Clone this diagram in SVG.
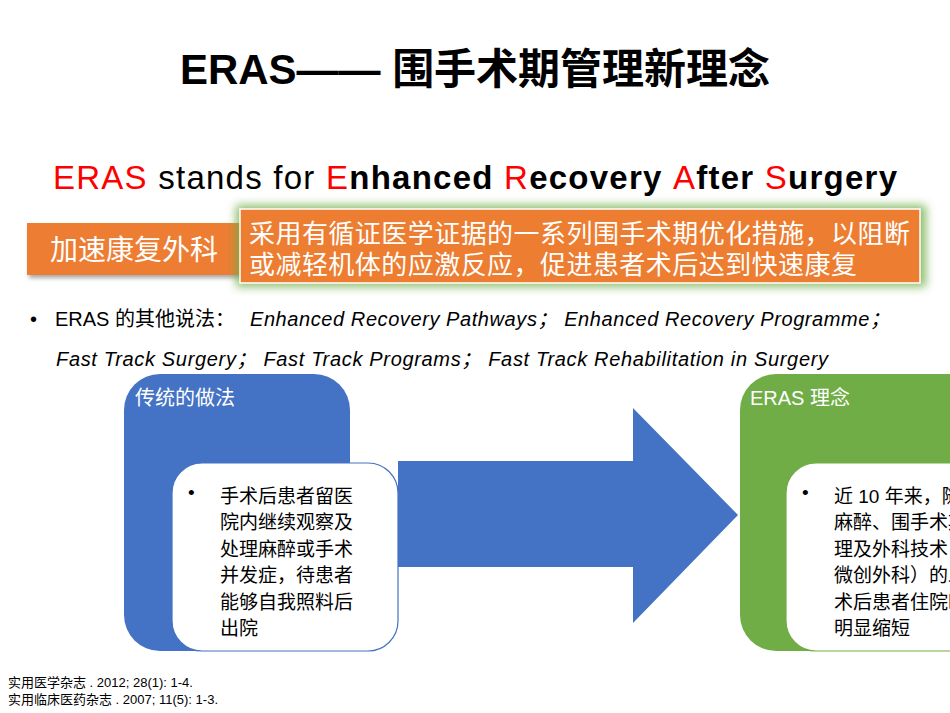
<svg xmlns="http://www.w3.org/2000/svg" width="950" height="713" viewBox="0 0 950 713">
<defs>
<style>
.s{font-family:"Liberation Sans","Noto Sans CJK SC",sans-serif}
.r{fill:#ff0000}
.b{font-weight:bold}
.it{font-style:italic}
</style>
<filter id="glow" x="-10%" y="-40%" width="120%" height="180%"><feGaussianBlur stdDeviation="5"/></filter>
<filter id="sh" x="-10%" y="-20%" width="130%" height="150%"><feDropShadow dx="2" dy="3" stdDeviation="2" flood-color="#000" flood-opacity="0.35"/></filter>
</defs>
<rect width="950" height="713" fill="#fff"/>
<text class="s" x="475" y="84" text-anchor="middle" font-size="42" font-weight="bold" fill="#000" textLength="590">ERAS—— 围手术期管理新理念</text>
<text class="s" x="53" y="189" font-size="33" fill="#000" textLength="844"><tspan class="r">ERAS</tspan> stands for <tspan class="r">E</tspan><tspan class="b">nhanced </tspan><tspan class="r">R</tspan><tspan class="b">ecovery </tspan><tspan class="r">A</tspan><tspan class="b">fter </tspan><tspan class="r">S</tspan><tspan class="b">urgery</tspan></text>
<g id="tag">
<rect x="27" y="223" width="214" height="52" fill="#ed7d31" filter="url(#sh)"/>
<text class="s" x="134" y="260" text-anchor="middle" font-size="28" fill="#fff">加速康复外科</text>
</g>
<g id="def">
<rect x="236" y="205" width="690" height="82" fill="#70ad47" filter="url(#glow)" opacity="0.8"/>
<rect x="240" y="209" width="680" height="74" fill="#ed7d31" stroke="#fff" stroke-width="1.5"/>
<text class="s" font-size="26" fill="#fff"><tspan x="249" y="243" textLength="661">采用有循证医学证据的一系列围手术期优化措施，以阻断</tspan><tspan x="249" y="274" textLength="608">或减轻机体的应激反应，促进患者术后达到快速康复</tspan></text>
</g>
<text class="s" font-size="20" fill="#000"><tspan x="30" y="326">•</tspan><tspan x="55" y="326">ERAS 的其他说法：</tspan><tspan class="it" x="250" y="326" textLength="640">Enhanced Recovery Pathways；  Enhanced Recovery Programme；</tspan><tspan class="it" x="56" y="366" textLength="772">Fast Track Surgery；  Fast Track Programs；  Fast Track Rehabilitation in Surgery</tspan></text>
<g id="trad">
<rect x="124" y="374" width="226" height="277" rx="36" fill="#4472c4"/>
<text class="s" x="135" y="405" font-size="20" fill="#fff">传统的做法</text>
</g>
<g id="trad-detail">
<rect x="172" y="463" width="226" height="188" rx="30" fill="#fff" stroke="#4472c4" stroke-width="1.2"/>
<text class="s" font-size="19" fill="#000"><tspan x="188" y="499">•</tspan><tspan x="220" y="503">手术后患者留医</tspan><tspan x="220" y="529">院内继续观察及</tspan><tspan x="220" y="556">处理麻醉或手术</tspan><tspan x="220" y="582">并发症，待患者</tspan><tspan x="220" y="609">能够自我照料后</tspan><tspan x="220" y="635">出院</tspan></text>
</g>
<g id="connectors">
<polygon points="398,461 633,461 633,408 738,515 633,623 633,567 398,567" fill="#4472c4"/>
</g>
<g id="eras">
<rect x="740" y="374" width="250" height="277" rx="36" fill="#70ad47"/>
<text class="s" x="750" y="405" font-size="20" fill="#fff">ERAS 理念</text>
</g>
<g id="eras-detail">
<rect x="786" y="463" width="220" height="188" rx="30" fill="#fff" stroke="#70ad47" stroke-width="1.2"/>
<text class="s" font-size="19" fill="#000"><tspan x="802" y="499">•</tspan><tspan x="834" y="503">近 10 年来，随</tspan><tspan x="834" y="529">麻醉、围手术期</tspan><tspan x="834" y="556">理及外科技术（</tspan><tspan x="834" y="582">微创外科）的发</tspan><tspan x="834" y="609">术后患者住院时</tspan><tspan x="834" y="635">明显缩短</tspan></text>
</g>
<text class="s" font-size="13" fill="#000"><tspan x="8" y="687">实用医学杂志 . 2012; 28(1): 1-4.</tspan><tspan x="8" y="704">实用临床医药杂志 . 2007; 11(5): 1-3.</tspan></text>
</svg>
